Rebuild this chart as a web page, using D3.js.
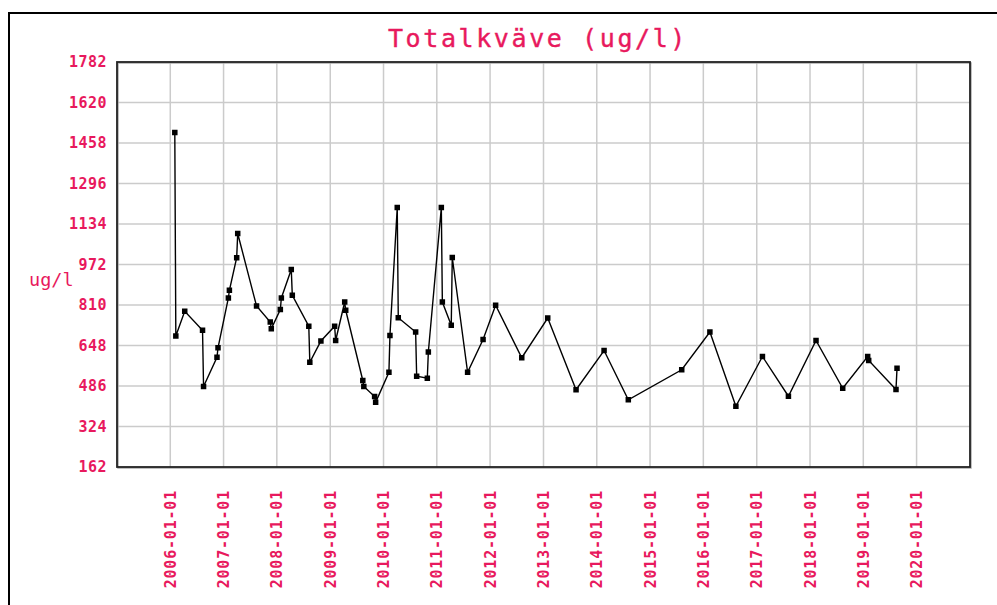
<!DOCTYPE html>
<html>
<head>
<meta charset="utf-8">
<script src="https://cdn.jsdelivr.net/npm/d3@7"></script>
<style>
  body { margin: 0; background: #fff; }
  svg { display: block; }
</style>
</head>
<body>
<div id="chart"></div>
<script>
const dates = [
  '2006-02-01', '2006-02-08', '2006-04-10', '2006-08-10', '2006-08-17', '2006-11-17', '2006-11-24',
  '2007-02-03', '2007-02-10', '2007-04-01', '2007-04-08', '2007-08-15', '2007-11-17', '2007-11-24',
  '2008-01-25', '2008-02-01', '2008-04-09', '2008-04-16', '2008-08-07', '2008-08-14', '2008-10-29',
  '2009-01-31', '2009-02-07', '2009-04-10', '2009-04-17', '2009-08-12', '2009-08-19', '2009-11-01',
  '2009-11-08', '2010-02-07', '2010-02-14', '2010-04-05', '2010-04-12', '2010-08-09', '2010-08-16',
  '2010-10-28', '2010-11-04', '2011-02-01', '2011-02-08', '2011-04-10', '2011-04-17', '2011-07-31',
  '2011-11-14', '2012-02-08', '2012-08-05', '2013-01-30', '2013-08-12', '2014-02-20', '2014-08-05',
  '2015-08-06', '2016-02-15', '2016-08-11', '2017-02-09', '2017-08-06', '2018-02-11', '2018-08-13',
  '2019-01-31', '2019-02-07', '2019-08-13', '2019-08-20'
];
const values = [
  1500, 686, 785, 709, 484, 601, 639,
  838, 869, 999, 1096, 806, 742, 715,
  792, 838, 952, 849, 725, 581, 666,
  725, 668, 822, 789, 508, 484, 444,
  421, 541, 688, 1200, 759, 702, 525,
  517, 622, 1200, 822, 729, 1000, 541,
  672, 809, 599, 758, 471, 628, 431,
  551, 702, 405, 604, 445, 668, 477,
  604, 588, 472, 557
];
const yTicks = [162, 324, 486, 648, 810, 972, 1134, 1296, 1458, 1620, 1782];
const xTicks = ['2006-01-01', '2007-01-01', '2008-01-01', '2009-01-01', '2010-01-01', '2011-01-01',
  '2012-01-01', '2013-01-01', '2014-01-01', '2015-01-01', '2016-01-01', '2017-01-01',
  '2018-01-01', '2019-01-01', '2020-01-01'];
const xDomain = ['2005-01-01', '2021-01-01'];

const PINK = '#e8195d';
const MONO = '"DejaVu Sans Mono", "Liberation Mono", monospace';

const width = 997, height = 605;
const margin = { top: 62, right: 27, bottom: 138, left: 117 };
const innerW = width - margin.left - margin.right;
const innerH = height - margin.top - margin.bottom;

const parse = d3.timeParse('%Y-%m-%d');
const points = dates.map((d, i) => ({ date: parse(d), value: values[i] }));

const svg = d3.select('#chart')
  .append('svg')
  .attr('width', width)
  .attr('height', height);

// outer frame (only top and left edges are in view)
svg.append('path')
  .attr('d', `M9,${height} V13 H${width}`)
  .attr('fill', 'none')
  .attr('stroke', '#000')
  .attr('stroke-width', 2);

svg.append('text')
  .attr('x', 538)
  .attr('y', 47)
  .attr('text-anchor', 'middle')
  .attr('fill', PINK)
  .style('font-family', MONO)
  .style('font-size', '25px')
  .style('letter-spacing', '2.6px')
  .style('stroke', PINK)
  .style('stroke-width', 0.4)
  .text('Totalkväve (ug/l)');

svg.append('text')
  .attr('x', 29)
  .attr('y', 286)
  .attr('fill', PINK)
  .style('font-family', MONO)
  .style('font-size', '18.5px')
  .text('ug/l');

const g = svg.append('g')
  .attr('transform', `translate(${margin.left},${margin.top})`);

const x = d3.scaleTime()
  .domain(xDomain.map(parse))
  .range([0, innerW]);

const y = d3.scaleLinear()
  .domain([162, 1782])
  .range([innerH, 0]);

// grid
g.append('g')
  .selectAll('line.hgrid')
  .data(yTicks.slice(1, -1))
  .enter()
  .append('line')
  .attr('class', 'hgrid')
  .attr('x1', 0)
  .attr('x2', innerW)
  .attr('y1', d => y(d))
  .attr('y2', d => y(d))
  .attr('stroke', '#cbcbcb')
  .attr('stroke-width', 1.5);

g.append('g')
  .selectAll('line.vgrid')
  .data(xTicks.map(parse))
  .enter()
  .append('line')
  .attr('class', 'vgrid')
  .attr('x1', d => x(d))
  .attr('x2', d => x(d))
  .attr('y1', 0)
  .attr('y2', innerH)
  .attr('stroke', '#cbcbcb')
  .attr('stroke-width', 1.5);

// plot border with a soft shadow
g.append('rect')
  .attr('x', 1)
  .attr('y', 1)
  .attr('width', innerW)
  .attr('height', innerH)
  .attr('fill', 'none')
  .attr('stroke', '#aaa')
  .attr('stroke-width', 1.5);
g.append('rect')
  .attr('width', innerW)
  .attr('height', innerH)
  .attr('fill', 'none')
  .attr('stroke', '#222')
  .attr('stroke-width', 1.8);

// y axis labels
const yAxis = d3.axisLeft(y)
  .tickValues(yTicks)
  .tickFormat(d3.format('d'))
  .tickSize(0)
  .tickPadding(10);
g.append('g')
  .call(yAxis)
  .call(a => a.select('.domain').remove())
  .selectAll('text')
  .attr('fill', PINK)
  .style('font-family', MONO)
  .style('font-size', '15px')
  .style('font-weight', 'bold')
  .style('letter-spacing', '0.5px');

// x axis labels, vertical
const xAxis = d3.axisBottom(x)
  .tickValues(xTicks.map(parse))
  .tickFormat(d3.timeFormat('%Y-%m-%d'))
  .tickSize(0);
g.append('g')
  .attr('transform', `translate(0,${innerH})`)
  .call(xAxis)
  .call(a => a.select('.domain').remove())
  .selectAll('text')
  .attr('fill', PINK)
  .attr('text-anchor', 'end')
  .attr('dy', null)
  .attr('y', null)
  .attr('transform', 'translate(5,23) rotate(-90)')
  .style('font-family', MONO)
  .style('font-size', '15px')
  .style('font-weight', 'bold')
  .style('letter-spacing', '0.8px');

// series
const line = d3.line()
  .x(d => x(d.date))
  .y(d => y(d.value));

g.append('path')
  .datum(points)
  .attr('d', line)
  .attr('fill', 'none')
  .attr('stroke', '#000')
  .attr('stroke-width', 1.4);

g.selectAll('.pt')
  .data(points)
  .enter()
  .append('rect')
  .attr('class', 'pt')
  .attr('x', d => x(d.date) - 2.75)
  .attr('y', d => y(d.value) - 2.75)
  .attr('width', 5.5)
  .attr('height', 5.5)
  .attr('fill', '#000');
</script>
</body>
</html>
